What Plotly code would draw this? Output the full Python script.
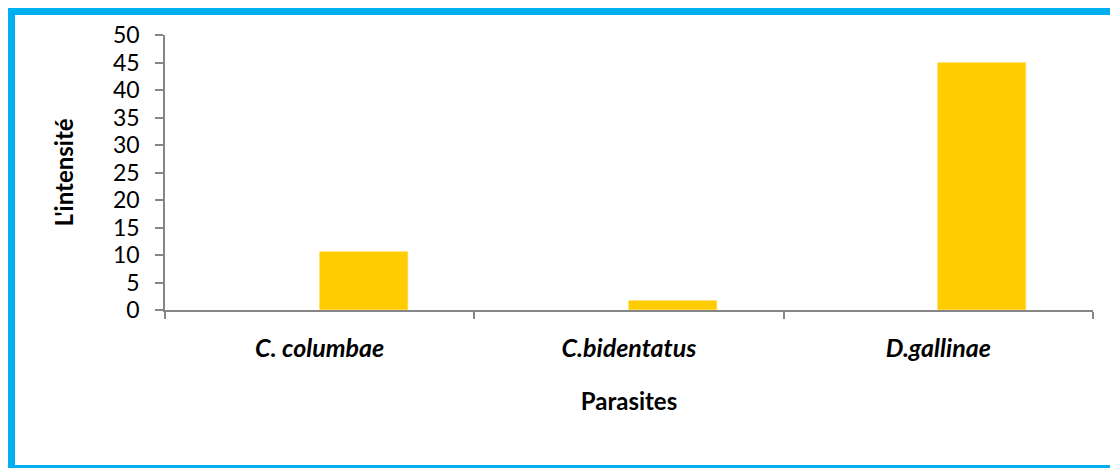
import plotly.graph_objects as go

categories = ["C. columbae", "C.bidentatus", "D.gallinae"]
intensite = [10.5, 1.7, 45]
y_ticks = [0, 5, 10, 15, 20, 25, 30, 35, 40, 45, 50]

# page body has an 8px margin, so the figure is sized to the visible area
W, H = 1110, 460
ML, MR, MT, MB = 157, 25, 27, 158
PW = W - ML - MR
PH = H - MT - MB

def px_x(p):
    return (p - ML) / PW

def px_y(p):
    return (H - MB - p) / PH

fig = go.Figure()
fig.add_trace(go.Bar(
    x=categories,
    y=intensite,
    width=0.285,
    offset=0,
    marker=dict(color="#FFCC00", line=dict(color="#FFD633", width=0.6)),
    showlegend=False,
))

axis_col = "#868686"
fig.update_layout(
    width=W, height=H,
    margin=dict(l=ML, r=MR, t=MT, b=MB, autoexpand=False),
    paper_bgcolor="white", plot_bgcolor="white",
    font=dict(family="Lato", color="black"),
    bargap=0,
    xaxis=dict(
        type="category",
        range=[-0.5, 2.5],
        showline=True, linecolor=axis_col, linewidth=1.5,
        ticks="outside", tickson="boundaries", ticklen=7, tickcolor=axis_col, tickwidth=1.5,
        showgrid=False, zeroline=False,
        tickfont=dict(family="Lato", size=25, color="black", weight="bold", style="italic"),
        ticklabelstandoff=15,
        title=dict(text="<b>Parasites</b>", font=dict(family="Lato", size=24, color="black"), standoff=32),
        automargin=False,
    ),
    yaxis=dict(
        range=[0, 50],
        tickvals=y_ticks,
        showline=True, linecolor=axis_col, linewidth=1.5,
        ticks="outside", ticklen=8, tickcolor=axis_col, tickwidth=1.5,
        showgrid=False, zeroline=False,
        tickfont=dict(family="Lato", size=23, color="black"),
        ticklabelstandoff=11,
        title=dict(text="<b>L'intensité</b>", font=dict(family="Lato", size=24, color="black"), standoff=33),
        automargin=False,
    ),
)

# blue frame around the chart area
fig.add_shape(
    type="rect", xref="paper", yref="paper",
    x0=px_x(3), x1=px_x(1140), y0=px_y(3), y1=px_y(461),
    line=dict(color="#00B0F0", width=8), fillcolor="rgba(0,0,0,0)", layer="below",
)

fig.write_html("out.html")
